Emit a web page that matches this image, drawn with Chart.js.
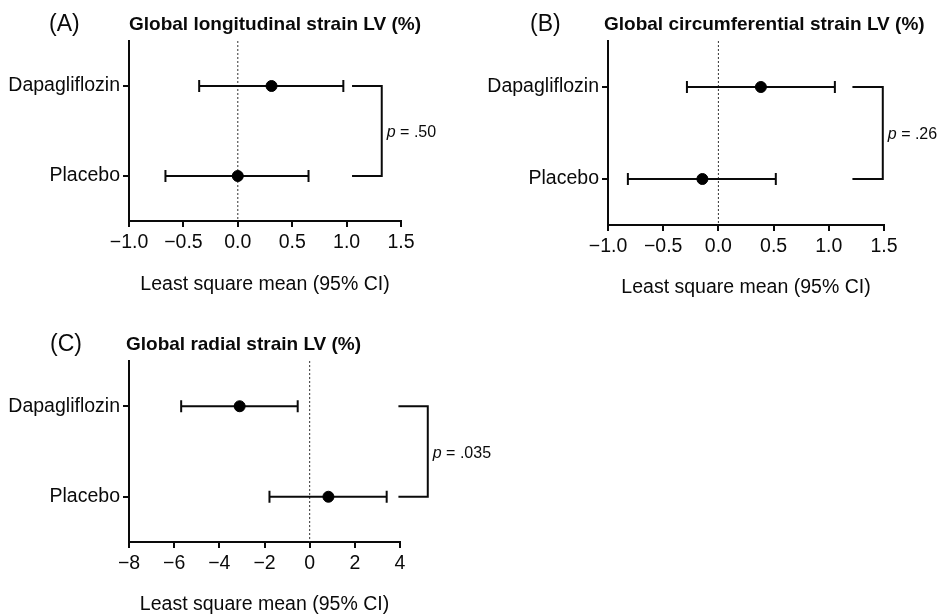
<!DOCTYPE html>
<html>
<head>
<meta charset="utf-8">
<script src="https://cdn.jsdelivr.net/npm/chart.js@4.4.1/dist/chart.umd.min.js"></script>
<style>
  html, body { margin: 0; padding: 0; background: #fff; }
  body { width: 940px; height: 616px; position: relative; overflow: hidden; }
  .panel { position: absolute; }
</style>
</head>
<body>
<div class="panel" style="left:0;top:0;width:470px;height:300px"><canvas id="graficoA"></canvas></div>
<div class="panel" style="left:470px;top:0;width:470px;height:300px"><canvas id="graficoB"></canvas></div>
<div class="panel" style="left:0;top:320px;width:520px;height:296px"><canvas id="graficoC"></canvas></div>
<script>
const categories = ["Dapagliflozin", "Placebo"];

// (A) global longitudinal strain
const glsMean = [0.31, 0.0];
const glsLower = [-0.355, -0.665];
const glsUpper = [0.97, 0.65];
const glsTicks = [-1.0, -0.5, 0.0, 0.5, 1.0, 1.5];

// (B) global circumferential strain
const gcsMean = [0.385, -0.145];
const gcsLower = [-0.285, -0.82];
const gcsUpper = [1.055, 0.52];
const gcsTicks = [-1.0, -0.5, 0.0, 0.5, 1.0, 1.5];

// (C) global radial strain
const grsMean = [-3.1, 0.83];
const grsLower = [-5.69, -1.78];
const grsUpper = [-0.53, 3.41];
const grsTicks = [-8, -6, -4, -2, 0, 2, 4];

const pValues = [".50", ".26", ".035"];

const FONT = "'Liberation Sans', Arial, sans-serif";
const INK = "#0a0a0a";

function formatTick(v, dec) {
  const s = Math.abs(v).toFixed(dec);
  return (v < 0 ? "\u2212" : "") + s;
}

// zero line, panel letter, title, bracket with p value
const panelDecor = {
  id: "panelDecor",
  beforeDatasetsDraw(chart, args, opts) {
    const { ctx, chartArea, scales: { x } } = chart;
    const x0 = x.getPixelForValue(0);
    ctx.save();
    ctx.setLineDash([2, 2]);
    ctx.lineWidth = 1;
    ctx.strokeStyle = "#333";
    ctx.beginPath();
    ctx.moveTo(x0, chartArea.top);
    ctx.lineTo(x0, chartArea.bottom);
    ctx.stroke();
    ctx.restore();
  },
  afterDraw(chart, args, opts) {
    const { ctx, chartArea, scales: { x, y } } = chart;
    ctx.save();
    ctx.fillStyle = INK;
    ctx.textBaseline = "middle";

    ctx.font = "23px " + FONT;
    ctx.textAlign = "left";
    ctx.fillText(opts.letter, opts.letterX, opts.titleY);

    ctx.font = "bold 19px " + FONT;
    ctx.fillText(opts.title, chartArea.left + opts.titleDx, opts.titleY);

    // bracket
    const xa = x.getPixelForValue(opts.bracketFrom);
    const xb = x.getPixelForValue(opts.bracketTo);
    const y1 = y.getPixelForValue(0);
    const y2 = y.getPixelForValue(1);
    ctx.strokeStyle = INK;
    ctx.lineWidth = 2;
    ctx.beginPath();
    ctx.moveTo(xa, y1);
    ctx.lineTo(xb, y1);
    ctx.lineTo(xb, y2);
    ctx.lineTo(xa, y2);
    ctx.stroke();

    const ym = (y1 + y2) / 2 + 2;
    ctx.font = "italic 16px " + FONT;
    ctx.fillText("p", xb + 5, ym);
    const w = ctx.measureText("p").width;
    ctx.font = "16px " + FONT;
    ctx.fillText(" = " + opts.p, xb + 5 + w, ym);
    ctx.restore();
  }
};

function forestDatasets(mean, lower, upper) {
  const sets = [{
    data: categories.map((c, i) => ({ x: mean[i], y: c })),
    pointRadius: 5.5,
    pointHoverRadius: 5.5,
    backgroundColor: "#000",
    borderColor: "#000",
    order: 0
  }];
  categories.forEach((c, i) => {
    sets.push({
      data: [{ x: lower[i], y: c }, { x: upper[i], y: c }],
      showLine: true,
      borderColor: INK,
      borderWidth: 2,
      pointStyle: "line",
      pointRotation: 90,
      pointRadius: 6,
      pointBorderWidth: 2,
      pointBorderColor: INK,
      order: 1
    });
  });
  return sets;
}

function criarForest(id, mean, lower, upper, ticks, dec, decor, layout) {
  const ctx = document.getElementById(id).getContext("2d");
  return new Chart(ctx, {
    type: "scatter",
    data: { datasets: forestDatasets(mean, lower, upper) },
    plugins: [panelDecor],
    options: {
      responsive: true,
      maintainAspectRatio: false,
      animation: false,
      events: [],
      layout: { padding: layout.padding },
      plugins: {
        legend: { display: false },
        tooltip: { enabled: false },
        panelDecor: decor
      },
      scales: {
        x: {
          type: "linear",
          min: ticks[0],
          max: ticks[ticks.length - 1],
          afterBuildTicks: s => { s.ticks = ticks.map(v => ({ value: v })); },
          afterFit: s => { s.height = layout.xHeight; },
          border: { display: true, color: INK, width: 2 },
          grid: { drawOnChartArea: false, drawTicks: true, tickLength: 6, color: INK, lineWidth: 2 },
          ticks: {
            autoSkip: false, maxRotation: 0, padding: 4, color: INK,
            font: { family: FONT, size: 19.5 },
            callback: v => formatTick(v, dec)
          },
          title: {
            display: true,
            text: "Least square mean (95% CI)",
            color: INK,
            font: { family: FONT, size: 19.5 },
            padding: { top: 0, bottom: 0 }
          }
        },
        y: {
          type: "category",
          labels: categories,
          offset: true,
          afterFit: s => { s.width = layout.yWidth; },
          border: { display: true, color: INK, width: 2 },
          grid: { drawOnChartArea: false, drawTicks: true, tickLength: 6, color: INK, lineWidth: 2, offset: false },
          ticks: { padding: 3, color: INK, font: { family: FONT, size: 19.5 } }
        }
      }
    }
  });
}

criarForest("graficoA", glsMean, glsLower, glsUpper, glsTicks, 1,
  { letter: "(A)", letterX: 49, title: "Global longitudinal strain LV (%)", titleDx: 0, titleY: 25,
    bracketFrom: 1.05, bracketTo: 1.323, p: pValues[0] },
  { padding: { top: 41, right: 69, bottom: 4, left: 0 }, yWidth: 129, xHeight: 75 });

criarForest("graficoB", gcsMean, gcsLower, gcsUpper, gcsTicks, 1,
  { letter: "(B)", letterX: 60, title: "Global circumferential strain LV (%)", titleDx: -4, titleY: 25,
    bracketFrom: 1.214, bracketTo: 1.489, p: pValues[1] },
  { padding: { top: 41, right: 56, bottom: 1, left: 0 }, yWidth: 138, xHeight: 74 });

criarForest("graficoC", grsMean, grsLower, grsUpper, grsTicks, 0,
  { letter: "(C)", letterX: 50, title: "Global radial strain LV (%)", titleDx: -3, titleY: 25,
    bracketFrom: 3.93, bracketTo: 5.23, p: pValues[2] },
  { padding: { top: 41, right: 120, bottom: 0, left: 0 }, yWidth: 129, xHeight: 74 });
</script>
</body>
</html>
